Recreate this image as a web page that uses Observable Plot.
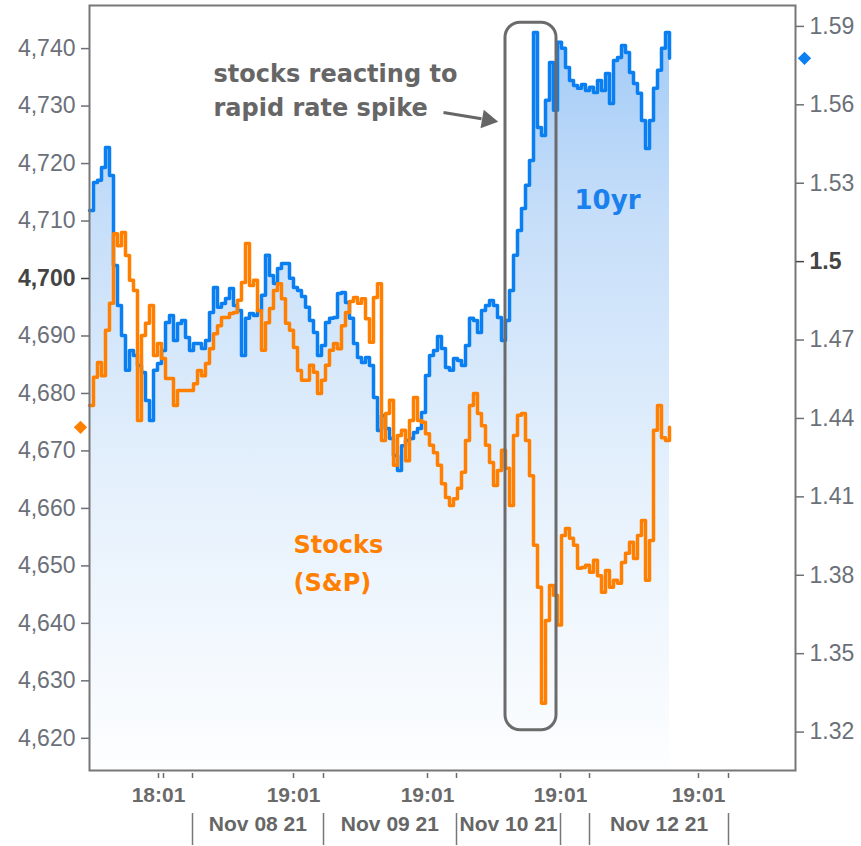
<!DOCTYPE html>
<html><head><meta charset="utf-8">
<script src="https://cdn.jsdelivr.net/npm/d3@7"></script>
<script src="https://cdn.jsdelivr.net/npm/@observablehq/plot@0.6"></script>
<style>body{margin:0;background:#fff} svg{display:block}</style>
</head><body><div id="chart"></div><script>
// S&P 500 futures (left axis), one sample per slot
const stocks = [
4677.9, 4682.8, 4685.4, 4683.1, 4691.0, 4695.7, 4707.8, 4705.7, 4708.0, 4704.0,
4699.7, 4697.9, 4675.3, 4690.1, 4692.2, 4695.3, 4686.6, 4688.7, 4686.1, 4682.6,
4682.6, 4677.9, 4680.5, 4680.5, 4680.5, 4680.5, 4681.7, 4684.0, 4683.1, 4685.2,
4687.8, 4690.4, 4691.8, 4693.2, 4693.2, 4693.9, 4694.1, 4696.2, 4699.3, 4706.1,
4698.8, 4699.7, 4694.4, 4687.5, 4692.3, 4694.8, 4697.9, 4699.1, 4696.5, 4692.2,
4691.0, 4688.0, 4684.0, 4682.3, 4682.3, 4684.9, 4683.7, 4680.0, 4682.3, 4684.9,
4687.5, 4688.7, 4687.8, 4691.8, 4694.1, 4696.0, 4696.7, 4695.7, 4696.5, 4693.0,
4688.9, 4696.7, 4699.1, 4671.8, 4676.5, 4678.8, 4667.5, 4672.7, 4673.6, 4668.3,
4675.3, 4679.3, 4675.3, 4675.0, 4673.0, 4671.0, 4669.7, 4667.5, 4664.3, 4661.9,
4660.5, 4661.7, 4663.5, 4666.3, 4671.8, 4677.9, 4680.0, 4676.5, 4674.4, 4671.0,
4668.0, 4664.0, 4666.6, 4670.1, 4667.0, 4660.5, 4672.7, 4676.2, 4676.5, 4671.8,
4665.7, 4653.6, 4646.3, 4626.1, 4640.5, 4646.6, 4644.9, 4639.7, 4655.3, 4656.5,
4654.8, 4653.6, 4649.6, 4649.7, 4650.1, 4648.9, 4651.0, 4648.3, 4645.4, 4649.2,
4646.3, 4647.5, 4647.0, 4650.6, 4652.2, 4654.1, 4651.3, 4655.3, 4657.9, 4647.5,
4654.4, 4673.6, 4677.9, 4672.3, 4671.8, 4674.1];

// 10yr Treasury yield (right axis)
const tenYear = [
1.5196, 1.5303, 1.5311, 1.5360, 1.5437, 1.5330, 1.4985, 1.4832, 1.4717, 1.4584,
1.4660, 1.4641, 1.4603, 1.4576, 1.4469, 1.4392, 1.4584, 1.4610, 1.4660, 1.4767,
1.4794, 1.4698, 1.4763, 1.4775, 1.4710, 1.4660, 1.4687, 1.4687, 1.4668, 1.4698,
1.4805, 1.4901, 1.4825, 1.4840, 1.4859, 1.4897, 1.4832, 1.4813, 1.4641, 1.4783,
1.4802, 1.4794, 1.4813, 1.4871, 1.5024, 1.4947, 1.4916, 1.4974, 1.4993, 1.4993,
1.4936, 1.4901, 1.4890, 1.4867, 1.4825, 1.4775, 1.4729, 1.4641, 1.4679, 1.4767,
1.4783, 1.4786, 1.4878, 1.4882, 1.4844, 1.4783, 1.4687, 1.4633, 1.4614, 1.4633,
1.4603, 1.4480, 1.4354, 1.4411, 1.4362, 1.4323, 1.4258, 1.4201, 1.4296, 1.4316,
1.4323, 1.4346, 1.4362, 1.4423, 1.4564, 1.4641, 1.4660, 1.4714, 1.4668, 1.4595,
1.4584, 1.4629, 1.4622, 1.4603, 1.4679, 1.4783, 1.4775, 1.4729, 1.4813, 1.4832,
1.4851, 1.4832, 1.4786, 1.4698, 1.4775, 1.4890, 1.5024, 1.5119, 1.5203, 1.5292,
1.5387, 1.5877, 1.5513, 1.5483, 1.5617, 1.5762, 1.5579, 1.5839, 1.5816, 1.5743,
1.5693, 1.5674, 1.5663, 1.5678, 1.5655, 1.5667, 1.5647, 1.5693, 1.5655, 1.5720,
1.5605, 1.5770, 1.5781, 1.5827, 1.5800, 1.5724, 1.5682, 1.5644, 1.5540, 1.5433,
1.5540, 1.5663, 1.5732, 1.5816, 1.5877, 1.5778];

const stockDomain = [4614.4, 4747.5];
const yieldDomain = [1.3053, 1.598];
const leftTicks = [4620, 4630, 4640, 4650, 4660, 4670, 4680, 4690, 4710, 4720, 4730, 4740];
const leftBold = [4700];
const rightTicks = [1.32, 1.35, 1.38, 1.41, 1.44, 1.47, 1.53, 1.56, 1.59];
const rightBold = [1.5];

// session slots on the x axis
const xDomain = [0, 176.5];
const timeTickPos = [17.25, 18.5, 25.75, 51, 58.5, 84.5, 91.75, 117.75, 125, 152.25, 159.75];
const timeTickLabels = ["18:01", "", "", "19:01", "", "19:01", "", "19:01", "", "19:01", ""];
const dayBounds = [25.75, 58.5, 91.75, 117.75, 125, 159.75];
const dayLabels = ["Nov 08 21", "Nov 09 21", "Nov 10 21", "Nov 12 21"];
const dayLabelPos = [42.1, 75.1, 104.75, 142.4];

const toStock = r => stockDomain[0] + (r - yieldDomain[0]) / (yieldDomain[1] - yieldDomain[0]) * (stockDomain[1] - stockDomain[0]);
const fromStock = s => yieldDomain[0] + (s - stockDomain[0]) / (stockDomain[1] - stockDomain[0]) * (yieldDomain[1] - yieldDomain[0]);

const table = stocks.map((s, i) => ({i, stocks: s, y10: toStock(tenYear[i])}));
const timeLabelMap = new Map(timeTickPos.map((p, k) => [p, timeTickLabels[k]]));
const days = dayLabels.map((label, k) => ({label, pos: dayLabelPos[k]}));

const BLUE = "#0a7ff2", ORANGE = "#ff8000", GRAY = "#666666", AX = "#6b7079";
const last = table.length - 1;

const defs = () => {
  const d = d3.create("svg:defs");
  const g = d.append("linearGradient").attr("id", "fillGrad")
    .attr("x1", 0).attr("y1", 0).attr("x2", 0).attr("y2", 1);
  [[0, "#a3cbf7"], [0.25, "#c6def9"], [0.6, "#e4f0fc"], [1, "#fdfeff"]]
    .forEach(([o, c]) => g.append("stop").attr("offset", o).attr("stop-color", c));
  return d.node();
};

const chart = Plot.plot({
  width: 861, height: 846,
  marginTop: 5, marginLeft: 89, marginRight: 66, marginBottom: 76,
  x: {domain: xDomain},
  y: {domain: stockDomain},
  style: {background: "white", fontFamily: "Liberation Sans, Arial, sans-serif"},
  marks: [
    defs,
    Plot.areaY(table, {x: "i", y1: stockDomain[0], y2: "y10", curve: "step-after", fill: "url(#fillGrad)"}),
    Plot.lineY(table, {x: "i", y: "y10", curve: "step-after", stroke: BLUE, strokeWidth: 3.5}),
    Plot.lineY(table, {x: "i", y: "stocks", curve: "step-after", stroke: ORANGE, strokeWidth: 3.5}),
    Plot.frame({stroke: "#777", strokeWidth: 2}),
    // left axis
    Plot.axisY({ticks: leftTicks, tickFormat: d3.format(","), tickSize: 8, tickPadding: 6, color: AX, strokeWidth: 1.5, fontSize: 23, label: null}),
    Plot.axisY({ticks: leftBold, tickFormat: d3.format(","), tickSize: 8, tickPadding: 6, color: "#444", strokeWidth: 1.5, fontSize: 23, fontWeight: "bold", label: null}),
    // right axis
    Plot.axisY({anchor: "right", ticks: rightTicks.map(toStock), tickFormat: d => String(+fromStock(d).toFixed(2)), tickSize: 8, tickPadding: 6, color: AX, strokeWidth: 1.5, fontSize: 23, label: null}),
    Plot.axisY({anchor: "right", ticks: rightBold.map(toStock), tickFormat: d => String(+fromStock(d).toFixed(2)), tickSize: 8, tickPadding: 6, color: "#444", strokeWidth: 1.5, fontSize: 23, fontWeight: "bold", label: null}),
    // time ticks
    Plot.axisX({ticks: timeTickPos, tickFormat: d => timeLabelMap.get(d) ?? "", tickSize: 5, tickPadding: 9, dy: 3, color: "#6a6a6a", strokeWidth: 1.5, fontSize: 21, fontWeight: "bold", label: null}),
    // day separators
    Plot.axisX({ticks: dayBounds, tickFormat: () => "", tickSize: 32, dy: 43, color: "#777", strokeWidth: 1.5, label: null}),
    Plot.text(days, {x: "pos", text: "label", frameAnchor: "bottom", dy: 60, fill: "#666", fontSize: 21, fontWeight: "bold"}),
    // end-value markers
    Plot.dot([table[last]], {x: -2.25, y: "stocks", symbol: "diamond2", r: 6, fill: ORANGE}),
    Plot.dot([table[last]], {x: 178.75, y: "y10", symbol: "diamond2", r: 6, fill: BLUE}),
    // annotations
    Plot.rect([{x1: 104, x2: 116.75, y1: 4621.4, y2: 4744.5}], {x1: "x1", x2: "x2", y1: "y1", y2: "y2", rx: 15, fill: "none", stroke: "#6b6b6b", strokeWidth: 3}),
    Plot.link([{x1: 88.5, y1: 4728.9, x2: 98, y2: 4727.8}], {x1: "x1", y1: "y1", x2: "x2", y2: "y2", stroke: GRAY, strokeWidth: 3}),
    Plot.dot([{x: 99.5, y: 4727.6}], {x: "x", y: "y", symbol: "triangle", rotate: 100, r: 7, fill: GRAY}),
    Plot.text(["stocks reacting to\nrapid rate spike"], {x: 31, y: 4733.2, text: d => d, textAnchor: "start", lineAnchor: "middle", lineHeight: 1.42, fontFamily: "DejaVu Sans, Verdana, sans-serif", fontWeight: "bold", fontSize: 24, fill: GRAY}),
    Plot.text(["10yr"], {x: 129.5, y: 4713.6, text: d => d, textAnchor: "middle", fontFamily: "DejaVu Sans, Verdana, sans-serif", fontWeight: "bold", fontSize: 26, fill: "#1a80ee"}),
    Plot.text(["Stocks\n(S&P)"], {x: 51, y: 4651.1, text: d => d, textAnchor: "start", lineAnchor: "middle", lineHeight: 1.58, fontFamily: "DejaVu Sans, Verdana, sans-serif", fontWeight: "bold", fontSize: 24, fill: ORANGE})
  ]
});
document.getElementById("chart").append(chart);
</script></body></html>
